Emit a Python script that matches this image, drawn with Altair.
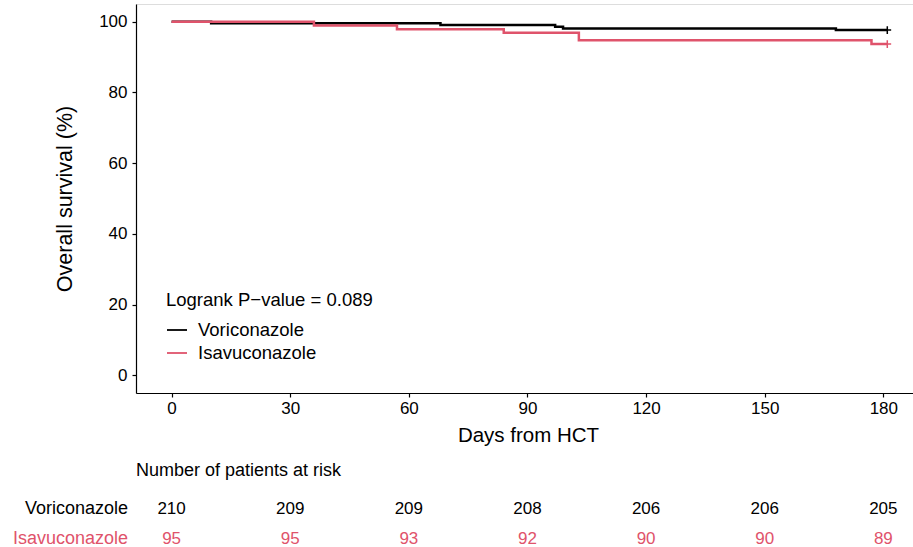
import altair as alt
import pandas as pd

# ---- data ----
groups = ["Voriconazole", "Isavuconazole"]
colors = ["#000000", "#DF536B"]

vori_days = [0, 10, 68, 97, 99, 168, 181]
vori_surv = [100, 99.524, 99.048, 98.571, 98.095, 97.619, 97.619]
isa_days = [0, 36, 57, 84, 103, 177, 181]
isa_surv = [100, 98.947, 97.895, 96.842, 94.737, 93.684, 93.684]
censor_day = 181

risk_days = [0, 30, 60, 90, 120, 150, 180]
vori_risk = [210, 209, 209, 208, 206, 206, 205]
isa_risk = [95, 95, 93, 92, 90, 90, 89]

x_ticks = [0, 30, 60, 90, 120, 150, 180]
y_ticks = [0, 20, 40, 60, 80, 100]
pvalue_text = "Logrank P\u2212value = 0.089"
risk_title = "Number of patients at risk"

# ---- tables ----
curve = pd.concat([
    pd.DataFrame({"group": groups[0], "day": vori_days, "surv": vori_surv}),
    pd.DataFrame({"group": groups[1], "day": isa_days, "surv": isa_surv}),
])
censor = pd.DataFrame({"group": groups, "day": [censor_day, censor_day],
                       "surv": [vori_surv[-1], isa_surv[-1]]})
risk = pd.concat([
    pd.DataFrame({"group": groups[0], "day": risk_days, "n": vori_risk}),
    pd.DataFrame({"group": groups[1], "day": risk_days, "n": isa_risk}),
])

FONT = "Liberation Sans"
W, H = 777, 389
PAD_L, PAD_T = 136, 4

xs = alt.Scale(domain=[-9, 187.5], nice=False, zero=False)
ys = alt.Scale(domain=[-5, 105], nice=False, zero=False)
cs = alt.Scale(domain=groups, range=colors)

xenc = alt.X("day:Q", scale=xs, axis=alt.Axis(
    values=x_ticks, title="Days from HCT", grid=False, tickSize=4,
    labelPadding=3, labelFontSize=17, labelColor="black", titleFontSize=20.5,
    titleFontWeight="normal", titleColor="black", titleX=392, titleY=48.5,
    titleBaseline="alphabetic", domainColor="black", tickColor="black",
    domainWidth=1.2, tickWidth=1.2, labelFont=FONT, titleFont=FONT))
yenc = alt.Y("surv:Q", scale=ys, axis=alt.Axis(
    values=y_ticks, title="Overall survival (%)", grid=False, tickSize=4,
    labelPadding=5, labelFontSize=17, labelColor="black", titleFontSize=21.5,
    titleFontWeight="normal", titleColor="black", titlePadding=22,
    domainColor="black", tickColor="black", domainWidth=1.2, tickWidth=1.2,
    labelFont=FONT, titleFont=FONT))

def line_layer(g):
    return alt.Chart(curve).transform_filter(alt.datum.group == g).mark_line(
        interpolate="step-after", strokeWidth=2.5).encode(
        x=xenc, y=yenc, color=alt.Color("group:N", scale=cs, legend=None))

lines = line_layer(groups[0]) + line_layer(groups[1])

cens = alt.Chart(censor).mark_point(
    shape="M-1,0L1,0M0,-1L0,1", size=60, filled=False, strokeWidth=1.5, opacity=1
).encode(x="day:Q", y="surv:Q", color=alt.Color("group:N", scale=cs, legend=None))

# legend inside the plot (pixel offsets relative to the plot's top-left)
ptext = alt.Chart(pd.DataFrame({"t": [pvalue_text]})).mark_text(
    align="left", baseline="middle", fontSize=18.5, font=FONT, color="black"
).encode(text="t:N", x=alt.value(30), y=alt.value(296))

leg_layers = []
for g, c, yy in zip(groups, colors, [326, 349]):
    leg_layers.append(alt.Chart(pd.DataFrame({"group": [g]})).mark_rule(
        strokeWidth=1.8, color=c).encode(
        x=alt.value(31), x2=alt.value(51), y=alt.value(yy)))
    leg_layers.append(alt.Chart(pd.DataFrame({"group": [g]})).mark_text(
        align="left", baseline="middle", fontSize=18.5, font=FONT, color="black"
    ).encode(text="group:N", x=alt.value(62), y=alt.value(yy)))

# risk table
rtitle = alt.Chart(pd.DataFrame({"t": [risk_title]})).mark_text(
    align="left", baseline="middle", fontSize=18, font=FONT, color="black"
).encode(text="t:N", x=alt.value(0), y=alt.value(467))

risk_layers = []
for g, c, yy in zip(groups, colors, [505, 535]):
    risk_layers.append(alt.Chart(pd.DataFrame({"group": [g]})).mark_text(
        align="right", baseline="middle", fontSize=18, font=FONT, color=c
    ).encode(text="group:N", x=alt.value(-8), y=alt.value(yy)))
    risk_layers.append(alt.Chart(risk).transform_filter(alt.datum.group == g).mark_text(
        align="center", baseline="middle", fontSize=17, font=FONT, color=c
    ).encode(text="n:Q", x=alt.X("day:Q", scale=xs), y=alt.value(yy)))

chart = alt.layer(lines, cens, ptext, *leg_layers, rtitle, *risk_layers).properties(
    width=W, height=H,
    autosize=alt.AutoSizeParams(type="none"),
    padding={"left": PAD_L, "top": PAD_T, "right": 0, "bottom": 547 - PAD_T - H},
).configure_view(stroke=None).configure(background="white")

chart.save("out.html", embed_options={"renderer": "svg", "actions": False})
